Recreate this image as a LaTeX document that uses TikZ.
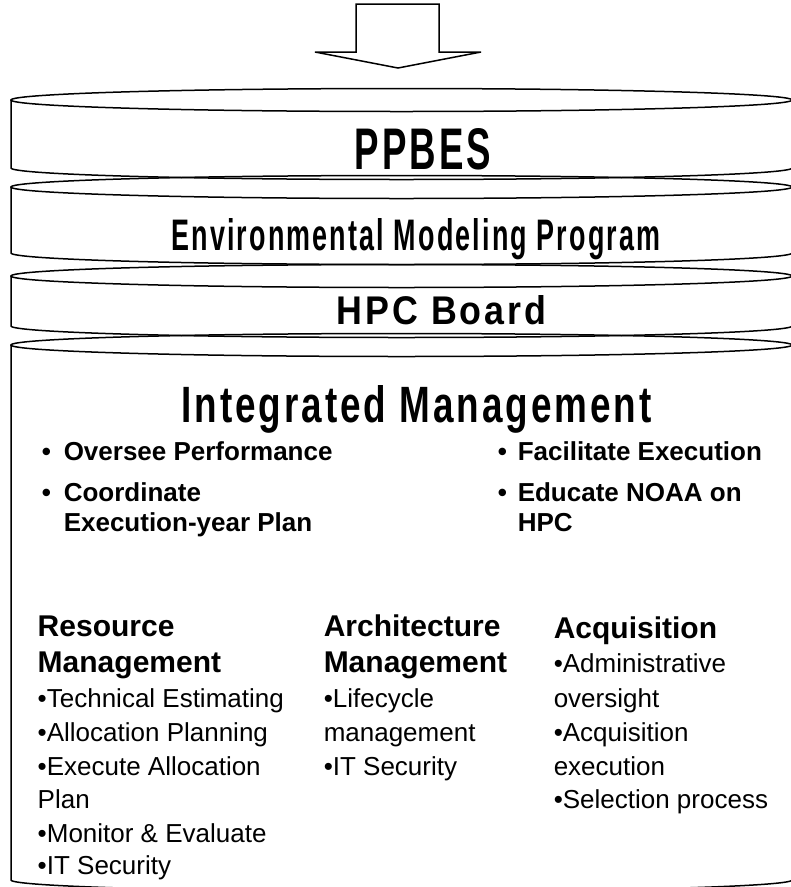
\documentclass[tikz,border=0pt]{standalone}
\usepackage{fontspec}
\setmainfont{Liberation Sans}
\newfontfamily\hdfont[LetterSpace=8]{Liberation Sans}
\usepackage{graphicx}
\newcommand\mycyl[2]{%
  \draw (401.5,#1) ellipse [x radius=390.5, y radius=11.5];
  \draw (11,#1) -- (11,#2) arc [start angle=180, end angle=0, x radius=390.5, y radius=11.5] -- (792,#1);
}
\newcommand\hdtext[3]{\resizebox{#1pt}{#2pt}{\hdfont\bfseries #3}}
\begin{document}
\begin{tikzpicture}[x=1pt,y=-1pt,line width=1.5pt,
  hd/.style={anchor=base,inner sep=0pt},
  bul/.style={anchor=base west,inner sep=0pt,font=\fontsize{26}{30}\selectfont\bfseries},
  colhd/.style={anchor=base west,inner sep=0pt,font=\fontsize{30}{36}\selectfont\bfseries},
  item/.style={anchor=base west,inner sep=0pt,font=\fontsize{26}{30}\selectfont}]
\useasboundingbox (0,0) rectangle (791,887);
% arrow
\draw[line join=miter] (356,4) -- (439,4) -- (439,52) -- (481,52) -- (398,68) -- (315,52) -- (356,52) -- cycle;
% cylinders
\mycyl{100}{168}
\mycyl{187}{253}
\mycyl{276}{326}
\mycyl{345}{880}
% headings
\node[hd] (ppbes) at (423,169) {\hdtext{136}{41}{PPBES}};
\node[hd] (emp) at (416,250) {\hdtext{489}{32}{Environmental Modeling Program}};
\node[hd] (hpc) at (441.5,324) {\hdtext{209}{29}{HPC Board}};
\node[hd] (im) at (416.5,422) {\hdtext{470}{37}{Integrated Management}};
% top bullets
\node[bul] (b1) at (41,460) {•};
\node[bul] (t1) at (63,460) {Oversee Performance};
\node[bul] (b2) at (41,501) {•};
\node[bul] (t2) at (63,501) {Coordinate};
\node[bul] (t2b) at (63,531) {Execution-year Plan};
\node[bul] (b3) at (497,460) {•};
\node[bul] (t3) at (517,460) {Facilitate Execution};
\node[bul] (b4) at (497,501) {•};
\node[bul] (t4) at (517,501) {Educate NOAA on};
\node[bul] (t4b) at (517,531) {HPC};
% resource management
\node[colhd] (r1) at (37,636) {Resource};
\node[colhd] (r2) at (37,672) {Management};
\node[item] (r3) at (37,707) {•Technical Estimating};
\node[item] (r4) at (37,741) {•Allocation Planning};
\node[item] (r5) at (37,775) {•Execute Allocation};
\node[item] (r6) at (37,808) {Plan};
\node[item] (r7) at (37,842) {•Monitor \& Evaluate};
\node[item] (r8) at (37,874) {•IT Security};
% architecture management
\node[colhd] (a1) at (323,636) {Architecture};
\node[colhd] (a2) at (323,672) {Management};
\node[item] (a3) at (323,707) {•Lifecycle};
\node[item] (a4) at (323,741) {management};
\node[item] (a5) at (323,775) {•IT Security};
% acquisition
\node[colhd] (q1) at (553,638) {Acquisition};
\node[item] (q2) at (553,672) {•Administrative};
\node[item] (q3) at (553,707) {oversight};
\node[item] (q4) at (553,741) {•Acquisition};
\node[item] (q5) at (553,775) {execution};
\node[item] (q6) at (553,808) {•Selection process};
\end{tikzpicture}
\end{document}
